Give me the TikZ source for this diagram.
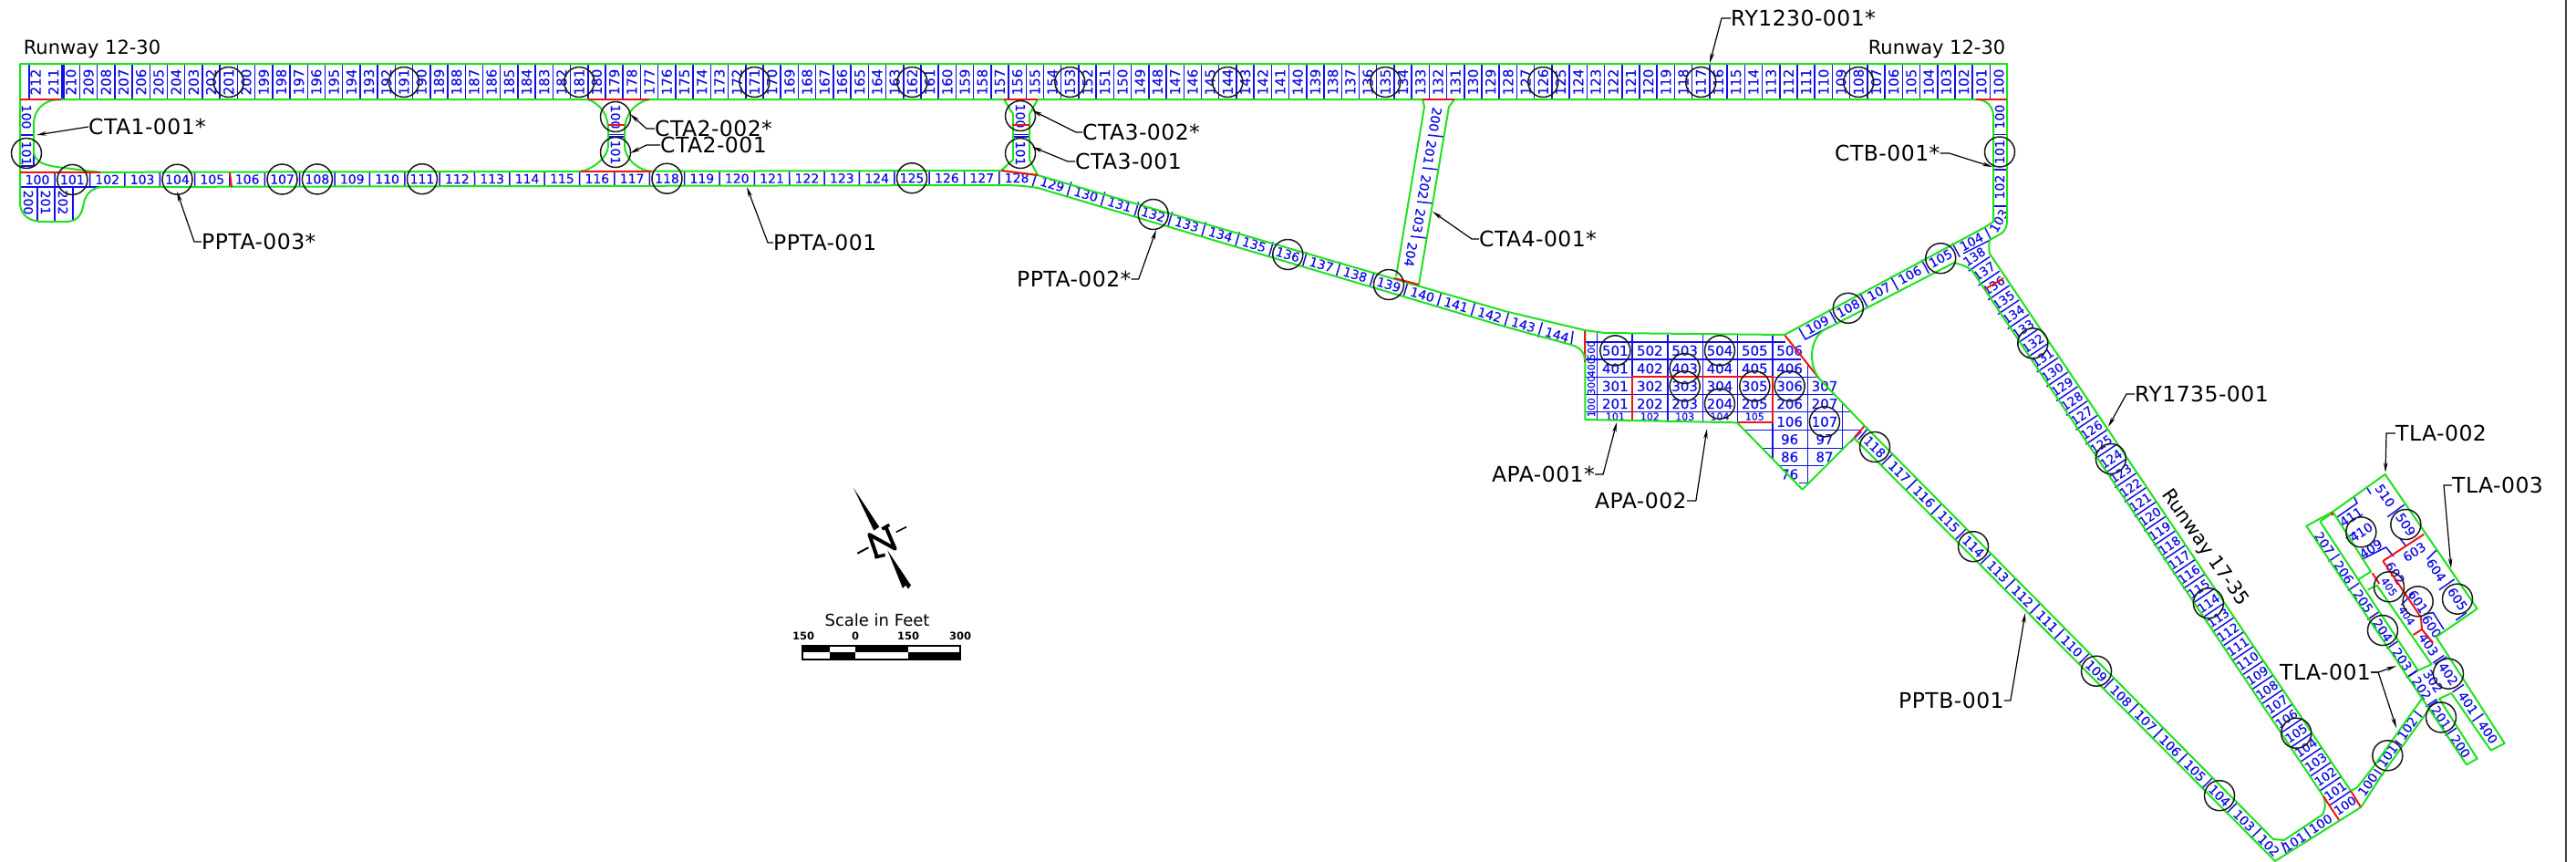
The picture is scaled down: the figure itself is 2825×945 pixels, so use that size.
\documentclass[tikz,border=0pt]{standalone}
\usepackage{fontspec}
\setmainfont{DejaVu Sans}
\newfontfamily\slabfont[FakeBold=0.35]{DejaVu Sans}
\newfontfamily\calloutfont[LetterSpace=2]{DejaVu Sans}
\usetikzlibrary{arrows.meta}
\definecolor{slabgreen}{RGB}{30,225,30}
\definecolor{slabblue}{RGB}{15,15,230}
\definecolor{slabred}{RGB}{240,20,20}
\def\slabsize{15}
\tikzset{
    slab/.style={text=slabblue, inner sep=0pt, font=\slabfont\fontsize{\slabsize}{\slabsize}\selectfont},
    slabline/.style={draw=slabblue, line width=1.5pt},
    pave/.style={draw=slabgreen, line width=2pt, line join=round},
    joint/.style={draw=slabred, line width=2pt},
    ring/.style={draw=black!90, circle, line width=1.5pt, minimum size=33pt, inner sep=0pt},
    callout/.style={inner sep=0pt, anchor=west, font=\calloutfont\fontsize{23.5}{26}\selectfont},
    runwayname/.style={inner sep=0pt, font=\fontsize{21}{24}\selectfont},
    leader/.style={line width=1.2pt, -{Stealth[length=11pt,width=4.5pt]}}
}
% name, x, y, dx, dy, first, last, rotation, half width
\newcommand{\slabrow}[9]{%
    \pgfmathtruncatemacro{\rowsign}{#7>=#6 ? 1 : -1}
    \pgfmathtruncatemacro{\rowcount}{abs(#7-#6)}
    \pgfmathsetmacro{\rowlen}{veclen(#4,#5)}
    \pgfmathsetmacro{\rowpx}{-(#5)/\rowlen*(#9)}
    \pgfmathsetmacro{\rowpy}{(#4)/\rowlen*(#9)}
    \foreach \i in {0,...,\rowcount}{
        \pgfmathtruncatemacro{\rowvalue}{#6+\i*\rowsign}
        \node[slab, rotate=#8] (#1-\rowvalue) at ({#2+\i*(#4)},{#3+\i*(#5)}) {\rowvalue};
        \ifnum\i>0
            \draw[slabline] ({#2+(\i-0.5)*(#4)+\rowpx},{#3+(\i-0.5)*(#5)+\rowpy}) -- ({#2+(\i-0.5)*(#4)-\rowpx},{#3+(\i-0.5)*(#5)-\rowpy});
        \fi
    }
}
\begin{document}
\begin{tikzpicture}[x=1pt, y=-1pt]
    \useasboundingbox (0,0) rectangle (2825,945);
    \draw[black!75, line width=1.5pt] (2814,0) -- (2814,945);

    % Runway 12-30
    \slabrow{ry}{2192}{90}{-19.22}{0}{100}{211}{90}{19}
    \node[slab, rotate=90] (ry-212) at (39,90) {212};
    \draw[slabline] (32,70) -- (32,108);
    \draw[slabline] (70,70) -- (70,108);
    \node[runwayname] (rwy-west) at (101,54) {Runway 12-30};
    \node[runwayname] (rwy-east) at (2124,54) {Runway 12-30};

    % Taxiway A
    \def\slabsize{14}
    \slabrow{ppta}{41}{197}{38.36}{-0.07}{100}{128}{0}{8.5}
    \slabrow{pptc}{1154}{202}{36.9}{11}{129}{144}{-16.6}{8.5}
    \draw[slabline] (1137,189) -- (1132,205);
    \draw[slabline] (1725,363) -- (1723,378);
    \draw[slabline] (22,205) -- (112,205);
    \foreach \n/\xx in {200/31, 201/50, 202/69}
        \node[slab, rotate=-90] (pptl-\n) at (\xx,222) {\n};
    \foreach \xx in {41,60,80}
        \draw[slabline] (\xx,205) -- (\xx,242);

    % Connectors
    \slabrow{ctaone}{29}{128}{0}{40}{100}{101}{-90}{7.5}
    \slabrow{ctatwo}{675}{128}{0}{39}{100}{101}{-90}{9}
    \slabrow{ctathree}{1119}{127}{0}{41}{100}{101}{-90}{9}
    \draw[slabline] (22,182) -- (37,182) -- (37,166);
    \draw[slabline] (666,150) -- (684,150);
    \draw[slabline] (1110,150) -- (1129,150);
    \foreach \n/\xx/\yy in {200/1574/131, 201/1568/167, 202/1562/205, 203/1556/242, 204/1547/279}
        \node[slab, rotate=-100] (ctafour-\n) at (\xx,\yy) {\n};
    \foreach \xx/\yy in {1575/149, 1569/185, 1563/222, 1556/260}
        \draw[slabline] (\xx-9,\yy-1) -- (\xx+9,\yy+1);

    % Taxiway B
    \slabrow{ctb}{2193}{128}{0}{38.5}{100}{102}{90}{7.5}
    \draw[slabline] (2186,226) -- (2201,226);
    \node[slab, rotate=60] (ctb-103) at (2192,242) {103};
    \slabrow{ctbd}{2162}{265}{-33.8}{18.2}{104}{109}{28}{8.5}
    \draw[slabline] (2177,250) -- (2183,262);
    \draw[slabline] (1973,360) -- (1980,372) -- (2007,358);
    \draw[slabline] (2153,278) -- (2183,263);
    \slabrow{pptb}{2056}{490}{27}{27.3}{118}{102}{-45}{8.5}
    \draw[slabline] (2041,473) -- (2029,485);
    \draw[slabline] (2048,470) -- (2038,482);
    \slabrow{pptd}{2516}{923}{29}{-20}{101}{100}{33}{8}
    \draw[slabline] (2502,923) -- (2508,937);

    % Runway 17-35
    \def\slabsize{13.5}
    \slabrow{rw}{2571.7}{882.9}{-10.7}{-15.83}{100}{138}{34}{14}
    \node[runwayname, rotate=-55] (rwy-south) at (2418,601) {Runway 17-35};

    % Apron
    \begin{scope}[shift={(1650,320)}, x=0.3333pt, y=-0.3333pt]
        \def\slabsize{15}
        \foreach \row/\yy in {50/193, 40/252, 30/310, 20/368}
            \foreach \col/\xx in {1/364, 2/478, 3/593, 4/708, 5/823, 6/938}
                \node[slab] (apa-\row\col) at (\xx,\yy) {\row\col};
        \foreach \n/\xx/\yy in {307/1053/310, 207/1053/368, 106/938/427, 107/1053/427, 96/938/485, 97/1053/485, 86/938/543, 87/1053/543, 76/938/600}
            \node[slab] (apa-\n) at (\xx,\yy) {\n};
        \def\slabsize{11}
        \foreach \n/\xx in {101/364, 102/478, 103/593, 104/708, 105/823}
            \node[slab] (apa-\n) at (\xx,410) {\n};
        \foreach \n/\yy in {500/193, 400/248, 300/307, 100/380}
            \node[slab, rotate=90] (apb-\n) at (285,\yy) {\n};
        \foreach \yy/\from/\to in {165/265/925, 222/265/975, 280/265/1035, 338/265/1090, 395/265/1140, 455/790/1170, 515/850/1112, 572/905/1050, 628/970/997}
            \draw[slabline] (\from,\yy) -- (\to,\yy);
        \foreach \xx/\from/\to in {305/135/420, 420/137/422, 537/140/425, 652/140/427, 767/140/430, 882/140/550, 997/235/628, 1112/365/515}
            \draw[slabline] (\xx,\from) -- (\xx,\to);
        \draw[pave] (265,125) -- (265,420) -- (765,430) -- (980,650) -- (1150,480);
        \draw[joint] (420,420) -- (420,280) -- (882,280) -- (882,428) -- (767,428);
        \draw[joint] (920,140) -- (1035,285);
        \draw[joint] (265,125) -- (265,230);
        \draw[joint] (1150,480) -- (1185,440);
    \end{scope}

    % Pavement edges
    \draw[pave] (2201,109) -- (22,109) -- (22,70) -- (2201,70) -- (2201,243) .. controls (2201,250) and (2197,255) .. (2193,257) -- (2182,263) .. controls (2181,270) and (2181,274) .. (2182,278) -- (2578,867);
    \draw[pave] (22,109) -- (22,222) .. controls (22,238) and (35,243) .. (47,243) -- (72,243) .. controls (88,243) and (90,232) .. (92,222) .. controls (94,212) and (103,205) .. (112,205) -- (1098,203) .. controls (1115,203) and (1125,204) .. (1138,206) -- (1650,358) -- (1723,378) .. controls (1734,381) and (1738,388) .. (1738,395);
    \draw[pave] (22,189) -- (1098,187) -- (1138,192) -- (1650,341) -- (1738,362) -- (1760,365) -- (1957,367) -- (2177,249) -- (2186,243) -- (2186,128) .. controls (2186,116) and (2178,109) .. (2167,109);
    \draw[pave] (67,109) .. controls (48,109) and (37,120) .. (37,137) -- (37,167) .. controls (38,178) and (50,181) .. (62,183) -- (110,189);
    \draw[pave] (645,109) .. controls (658,114) and (667,125) .. (667,143) -- (667,160) .. controls (667,172) and (650,186) .. (636,188);
    \draw[pave] (712,109) .. controls (697,112) and (685,125) .. (685,143) -- (685,160) .. controls (685,172) and (697,186) .. (715,188);
    \draw[pave] (1101,109) -- (1111,125) -- (1111,175) -- (1098,187);
    \draw[pave] (1138,109) -- (1129,125) -- (1129,175) -- (1138,192);
    \draw[pave] (1560,109) -- (1562,117) -- (1531,303);
    \draw[pave] (1595,109) -- (1589,117) -- (1556,312);
    \draw[pave] (2143,288) .. controls (2150,290) and (2158,292) .. (2163,297) -- (2548,873);
    \draw[pave] (2143,288) -- (2000,362) .. controls (1992,367) and (1987,378) .. (1987,390) .. controls (1987,400) and (1990,408) .. (1995,415) -- (2045,467) -- (2493,920) -- (2505,921) -- (2547,893) .. controls (2550,888) and (2551,880) .. (2548,873);
    \draw[pave] (2033,480) -- (2495,944) -- (2589,885);

    % Joints
    \draw[joint] (22,109) -- (67,109);
    \draw[joint] (22,189) -- (110,189);
    \draw[joint] (252,189) -- (254,205);
    \draw[joint] (645,109) -- (712,109);
    \draw[joint] (667,137) -- (685,137);
    \draw[joint] (636,188) -- (715,188);
    \draw[joint] (1101,109) -- (1138,109);
    \draw[joint] (1110,137) -- (1129,137);
    \draw[joint] (1098,187) -- (1138,192);
    \draw[joint] (1560,109) -- (1595,109);
    \draw[joint] (1529,305) -- (1556,312);
    \draw[joint] (2167,109) -- (2201,109);
    \draw[joint] (2177,317) -- (2197,305);
    \draw[joint] (2548,873) -- (2565,899);
    \draw[joint] (2578,867) -- (2589,885);

    % Taxilane area
    \begin{scope}[shift={(2350,450)}, x=0.3333pt, y=-0.3333pt]
        \def\slabsize{14}
        \slabrow{tlb}{597}{437}{64}{95.4}{207}{200}{-56}{22}
        \slabrow{tlc}{940}{770}{65}{96}{403}{400}{-56}{22}
        \foreach \n/\xx/\yy/\ang in {100/740/1230/55, 101/805/1135/55, 102/870/1045/55, 510/797/280/-56, 509/865/375/-56, 411/685/350/33, 410/718/400/33, 409/750/455/33, 603/893/465/33, 604/965/525/-56, 605/1035/620/-56, 602/830/535/-56, 601/905/628/-56, 600/950/710/-56, 302/955/890/-56}
            \node[slab, rotate=\ang] (tla-\n) at (\xx,\yy) {\n};
        \def\slabsize{11.5}
        \node[slab, rotate=-56] (tla-405) at (810,580) {405};
        \node[slab, rotate=-56] (tla-404) at (868,675) {404};
        \foreach \xa/\ya/\xb/\yb in {760/1180/790/1200, 830/1085/855/1105, 888/985/918/1008, 735/250/750/275, 805/350/860/310, 668/420/700/400, 865/445/845/420, 935/490/965/460, 975/590/1025/555, 1030/690/1065/665, 850/640/890/600, 875/875/905/855, 940/975/970/955, 960/835/1000/810}
            \draw[slabline] (\xa,\ya) -- (\xb,\yb);
        \draw[slabline] (640,350) -- (705,305) -- (695,285);
        \draw[slabline] (720,490) -- (800,450) -- (825,480);
        \draw[slabline] (925,670) -- (955,665) -- (990,720);
        \draw[pave] (538,380) -- (625,333) -- (797,210) -- (1100,652) -- (965,745) -- (1190,1095) -- (1145,1118) -- (1015,930) -- (975,948) -- (1100,1145) -- (1065,1165) -- cycle;
        \draw[pave] (583,365) -- (620,340);
        \draw[pave] (583,365) -- (905,855) -- (950,835) -- (770,575) -- (740,590);
        \draw[pave] (625,333) -- (750,530) -- (710,555);
        \draw[pave] (685,1250) -- (705,1240) -- (760,1170) -- (920,945);
        \draw[pave] (718,1305) -- (785,1200) -- (940,985);
        \draw[joint] (790,495) -- (925,407);
        \draw[joint] (790,495) -- (915,680) -- (918,720) -- (890,738);
        \draw[joint] (918,720) -- (955,765);
        \draw[joint] (755,535) -- (778,570);
        \draw[joint] (620,335) -- (625,345);
        \foreach \n in {101,509,410,405,601,605}
            \node[ring] (ring-tla-\n) at (tla-\n) {};
        \foreach \n in {204,201}
            \node[ring] (ring-tlb-\n) at (tlb-\n) {};
        \node[ring] (ring-tlc-402) at (tlc-402) {};
    \end{scope}

    % Rings
    \foreach \n in {201,191,181,171,162,153,144,135,126,117,108}
        \node[ring] (ring-ry-\n) at (ry-\n) {};
    \foreach \n in {101,104,107,108,111,118,125}
        \node[ring] (ring-ppta-\n) at (ppta-\n) {};
    \foreach \n in {132,136,139}
        \node[ring] (ring-pptc-\n) at (pptc-\n) {};
    \node[ring] (ring-ctaone) at (ctaone-101) {};
    \foreach \n in {100,101} {
        \node[ring] (ring-ctatwo-\n) at (ctatwo-\n) {};
        \node[ring] (ring-ctathree-\n) at (ctathree-\n) {};
    }
    \node[ring] (ring-ctb) at (ctb-101) {};
    \foreach \n in {105,108}
        \node[ring] (ring-ctbd-\n) at (ctbd-\n) {};
    \foreach \n in {118,114,109,104}
        \node[ring] (ring-pptb-\n) at (pptb-\n) {};
    \foreach \n in {132,124,114,105}
        \node[ring] (ring-rw-\n) at (rw-\n) {};
    \foreach \n in {501,403,303,504,204,305,306,107}
        \node[ring] (ring-apa-\n) at (apa-\n) {};

    % Callouts
    \node[callout] (cta1-001) at (97,139) {CTA1-001*};
    \node[callout] (ppta-003) at (221,265) {PPTA-003*};
    \node[callout] (ppta-001) at (848,266) {PPTA-001};
    \node[callout] (cta2-002) at (718,141) {CTA2-002*};
    \node[callout] (cta2-001) at (724,159) {CTA2-001};
    \node[callout] (cta3-002) at (1187,145) {CTA3-002*};
    \node[callout] (cta3-001) at (1179,177) {CTA3-001};
    \node[callout] (cta4-001) at (1622,262) {CTA4-001*};
    \node[callout] (ppta-002) at (1115,306) {PPTA-002*};
    \node[callout] (ry1230-001) at (1898,20) {RY1230-001*};
    \node[callout] (ctb-001) at (2012,168) {CTB-001*};
    \node[callout] (apa-001) at (1636,520) {APA-001*};
    \node[callout] (apa-002) at (1749,549) {APA-002};
    \node[callout] (ry1735-001) at (2341,432) {RY1735-001};
    \node[callout] (pptb-001) at (2082,768) {PPTB-001};
    \node[callout] (tla-001) at (2500,737) {TLA-001};
    \node[callout] (tla-002) at (2627,475) {TLA-002};
    \node[callout] (tla-003) at (2689,532) {TLA-003};

    \coordinate (cta1-end) at (40,148);
    \coordinate (ppta3-end) at (194,210);
    \coordinate (ppta1-end) at (819,205);
    \coordinate (cta22-end) at (691,125);
    \coordinate (cta21-end) at (691,168);
    \coordinate (cta32-end) at (1132,121);
    \coordinate (cta31-end) at (1132,161);
    \coordinate (cta4-end) at (1571,232);
    \coordinate (ppta2-end) at (1268,252);
    \coordinate (ry1230-end) at (1875,69);
    \coordinate (ctb-end) at (2185,183);
    \coordinate (apa1-end) at (1773,463);
    \coordinate (apa2-end) at (1872,470);
    \coordinate (ry1735-end) at (2312,468);
    \coordinate (pptb-end) at (2221,672);
    \coordinate (tla1-end) at (2628,730);
    \coordinate (tla1b-end) at (2628,798);
    \coordinate (tla2-end) at (2616,518);
    \coordinate (tla3-end) at (2688,623);

    \draw[leader] (cta1-001.west) -- (cta1-end);
    \draw[leader] (ppta-003.west) -- ++(-8,0) -- (ppta3-end);
    \draw[leader] (ppta-001.west) -- ++(-6,0) -- (ppta1-end);
    \draw[leader] (cta2-002.west) -- ++(-9,0) -- (cta22-end);
    \draw[leader] (cta2-001.west) -- ++(-15,0) -- (cta21-end);
    \draw[leader] (cta3-002.west) -- ++(-7,0) -- (cta32-end);
    \draw[leader] (cta3-001.west) -- ++(-8,0) -- (cta31-end);
    \draw[leader] (cta4-001.west) -- ++(-8,0) -- (cta4-end);
    \draw[leader] (ppta-002.east) -- ++(8,0) -- (ppta2-end);
    \draw[leader] (ry1230-001.west) -- ++(-10,0) -- (ry1230-end);
    \draw[leader] (ctb-001.east) -- ++(10,0) -- (ctb-end);
    \draw[leader] (apa-001.east) -- ++(9,0) -- (apa1-end);
    \draw[leader] (apa-002.east) -- ++(10,0) -- (apa2-end);
    \draw[leader] (ry1735-001.west) -- ++(-9,0) -- (ry1735-end);
    \draw[leader] (pptb-001.east) -- ++(7,0) -- (pptb-end);
    \draw[leader] (tla-001.east) -- ++(8,0) -- (tla1-end);
    \draw[leader] (tla-001.east) -- ++(8,0) -- (tla1b-end);
    \draw[leader] (tla-002.west) -- ++(-10,0) -- (tla2-end);
    \draw[leader] (tla-003.west) -- ++(-9,0) -- (tla3-end);

    % North arrow
    \begin{scope}[shift={(830,500)}, x=0.3333pt, y=-0.3333pt]
        \fill (318,105) -- (403,233) -- (385,245) -- cycle;
        \fill (430,310) -- (480,435) -- (490,425) -- (498,437) -- (507,425) -- cycle;
        \draw[line width=4pt, line join=round] (395,330) -- (370,258) -- (455,305) -- (425,235);
        \draw[line width=3.5pt] (388,333) -- (422,325);
        \draw[line width=3.5pt] (412,240) -- (436,226);
        \draw[line width=1.5pt] (458,250) -- (492,233);
        \draw[line width=2pt] (331,320) -- (367,301);
    \end{scope}

    % Scale bar
    \node[inner sep=0pt, font=\fontsize{18}{20}\selectfont] (scale-title) at (962,680) {Scale in Feet};
    \foreach \n/\xx/\tag in {150/881/a, 0/938/b, 150/996/c, 300/1053/d}
        \node[inner sep=0pt, font=\fontsize{11.5}{13}\bfseries\selectfont] (scale-\tag) at (\xx,697) {\n};
    \fill (880,708) rectangle (910,715);
    \fill (938,708) rectangle (996,715);
    \fill (910,715) rectangle (938,723);
    \fill (996,715) rectangle (1053,723);
    \draw[line width=1.3pt] (880,708) rectangle (1053,723);
\end{tikzpicture}
\end{document}
